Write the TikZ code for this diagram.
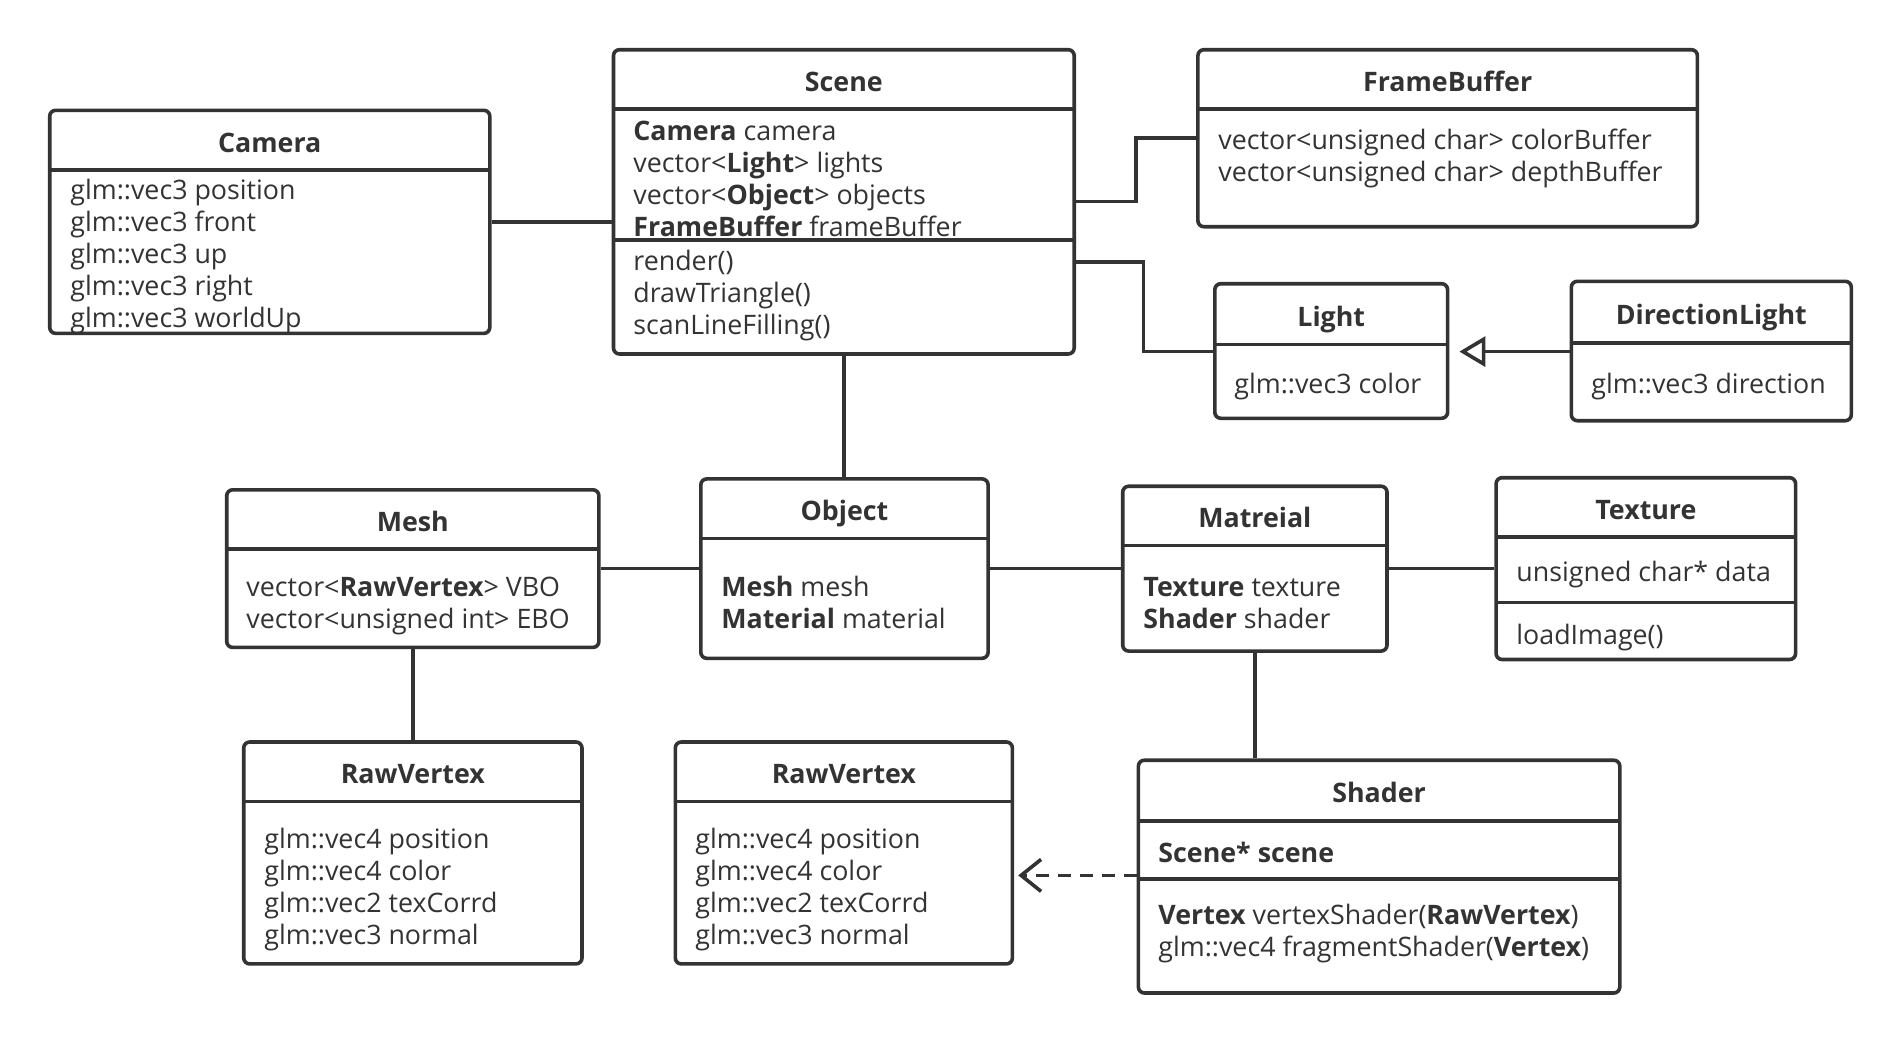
\documentclass[tikz,border=0pt]{standalone}
\usepackage{fontspec}
\setmainfont{Open Sans}
\usetikzlibrary{arrows.meta,fit}
\definecolor{ink}{HTML}{333333}
\tikzset{
  x=0.5pt, y=-0.5pt,
  clsbox/.style={draw=ink, line width=1.8pt, rounded corners=3pt, inner sep=0pt, fill=white},
  sepline/.style={draw=ink, line width=1.8pt},
  conn/.style={draw=ink, line width=1.8pt},
  titletxt/.style={anchor=base, inner sep=0pt, text=ink, font=\fontsize{13.4}{16}\selectfont\bfseries},
  linetxt/.style={anchor=base west, inner sep=0pt, text=ink, font=\fontsize{13.4}{16}\selectfont},
}
% name L T R B H title
\newcommand\umlcls[7]{%
  \node[clsbox, fit={(#2,#3) (#4,#5)}] (#1) {};
  \draw[sepline] (#2,#6) -- (#4,#6);
  \node[titletxt] (#1-title) at ({(#2+#4)/2},{(#3+#6)/2+12}) {#7};
}
% name x y text
\newcommand\umlline[4]{\node[linetxt] (#1) at (#2,{#3+10}) {#4};}
\begin{document}
\begin{tikzpicture}
\useasboundingbox (0,0) rectangle (1901,1044);

% Camera
\umlcls{cam}{49.7}{110.3}{489.8}{333.4}{169.7}{Camera}
\umlline{cam1}{70}{189}{glm::vec3 position}
\umlline{cam2}{70}{221}{glm::vec3 front}
\umlline{cam3}{70}{253}{glm::vec3 up}
\umlline{cam4}{70}{285}{glm::vec3 right}
\umlline{cam5}{70}{317}{glm::vec3 worldUp}

% Scene
\umlcls{scene}{613.5}{49.7}{1074.2}{354.0}{109.1}{Scene}
\draw[sepline] (613.5,240.1) -- (1074.2,240.1);
\umlline{sc1}{633}{130}{\textbf{Camera} camera}
\umlline{sc2}{633}{162}{vector<\textbf{Light}> lights}
\umlline{sc3}{633}{194}{vector<\textbf{Object}> objects}
\umlline{sc4}{633}{226}{\textbf{FrameBuffer} frameBuffer}
\umlline{sc5}{633}{260}{render()}
\umlline{sc6}{633}{292}{drawTriangle()}
\umlline{sc7}{633}{324}{scanLineFilling()}

% FrameBuffer
\umlcls{fb}{1197.9}{49.7}{1697.4}{226.7}{109.1}{FrameBuffer}
\umlline{fb1}{1218}{139}{vector<unsigned char> colorBuffer}
\umlline{fb2}{1218}{171}{vector<unsigned char> depthBuffer}

% Light
\umlcls{light}{1214.8}{283.7}{1447.6}{418.3}{344.3}{Light}
\umlline{li1}{1234}{383}{glm::vec3 color}

% DirectionLight
\umlcls{dlight}{1571.3}{281.3}{1851.3}{420.7}{343.1}{DirectionLight}
\umlline{dl1}{1591}{383}{glm::vec3 direction}

% Mesh
\umlcls{mesh}{226.7}{489.8}{598.9}{647.4}{549.2}{Mesh}
\umlline{me1}{246}{586}{vector<\textbf{RawVertex}> VBO}
\umlline{me2}{246}{618}{vector<unsigned int> EBO}

% Object
\umlcls{obj}{700.8}{478.9}{988.1}{658.3}{538.3}{Object}
\umlline{ob1}{721}{586}{\textbf{Mesh} mesh}
\umlline{ob2}{721}{618}{\textbf{Material} material}

% Matreial
\umlcls{mat}{1122.7}{486.2}{1387.0}{651.1}{545.6}{Matreial}
\umlline{ma1}{1143}{586}{\textbf{Texture} texture}
\umlline{ma2}{1143}{618}{\textbf{Shader} shader}

% Texture
\umlcls{tex}{1496.1}{477.7}{1795.6}{659.5}{537.1}{Texture}
\draw[sepline] (1496.1,602.6) -- (1795.6,602.6);
\umlline{te1}{1516}{571}{unsigned char* data}
\umlline{te2}{1516}{634}{loadImage()}

% RawVertex (left)
\umlcls{rva}{243.7}{742.0}{582.0}{963.9}{801.4}{RawVertex}
\umlline{ra1}{264}{838}{glm::vec4 position}
\umlline{ra2}{264}{870}{glm::vec4 color}
\umlline{ra3}{264}{902}{glm::vec2 texCorrd}
\umlline{ra4}{264}{934}{glm::vec3 normal}

% RawVertex (middle)
\umlcls{rvb}{675.3}{742.0}{1012.4}{963.9}{801.4}{RawVertex}
\umlline{rb1}{695}{838}{glm::vec4 position}
\umlline{rb2}{695}{870}{glm::vec4 color}
\umlline{rb3}{695}{902}{glm::vec2 texCorrd}
\umlline{rb4}{695}{934}{glm::vec3 normal}

% Shader
\umlcls{shd}{1138.4}{760.2}{1619.8}{993.0}{820.8}{Shader}
\draw[sepline] (1138.4,879.0) -- (1619.8,879.0);
\umlline{sh1}{1158}{852}{\textbf{Scene* scene}}
\umlline{sh2}{1158}{914}{\textbf{Vertex} vertexShader(\textbf{RawVertex})}
\umlline{sh3}{1158}{946}{glm::vec4 fragmentShader(\textbf{Vertex})}

% Connectors
\draw[conn] (cam.east |- 0,221.9) -- (scene.west |- 0,221.9);
\draw[conn] (scene.east |- 0,201.3) -- (1136,201.3) |- (fb.west |- 0,138.2);
\draw[conn] (scene.east |- 0,261.9) -- (1143.3,261.9) |- (light.west |- 0,351.6);
\draw[conn, -{Triangle[open, length=13pt, width=15pt, line width=1.8pt]}, shorten >=5pt]
  (dlight.west |- 0,351.6) -- (light.east |- 0,351.6);
\draw[conn] (scene.south) -- (scene.south |- obj.north);
\draw[conn] (mesh.east |- 0,568.6) -- (obj.west |- 0,568.6);
\draw[conn] (obj.east |- 0,568.6) -- (mat.west |- 0,568.6);
\draw[conn] (mat.east |- 0,568.6) -- (tex.west |- 0,568.6);
\draw[conn] (mat.south) -- (mat.south |- shd.north);
\draw[conn] (mesh.south) -- (mesh.south |- rva.north);
\draw[conn, dash pattern=on 6.5pt off 4.5pt, -{Straight Barb[length=10pt, width=16pt, line width=1.8pt]}, shorten >=2pt]
  (shd.west |- 0,875.4) -- (rvb.east |- 0,875.4);
\end{tikzpicture}
\end{document}
